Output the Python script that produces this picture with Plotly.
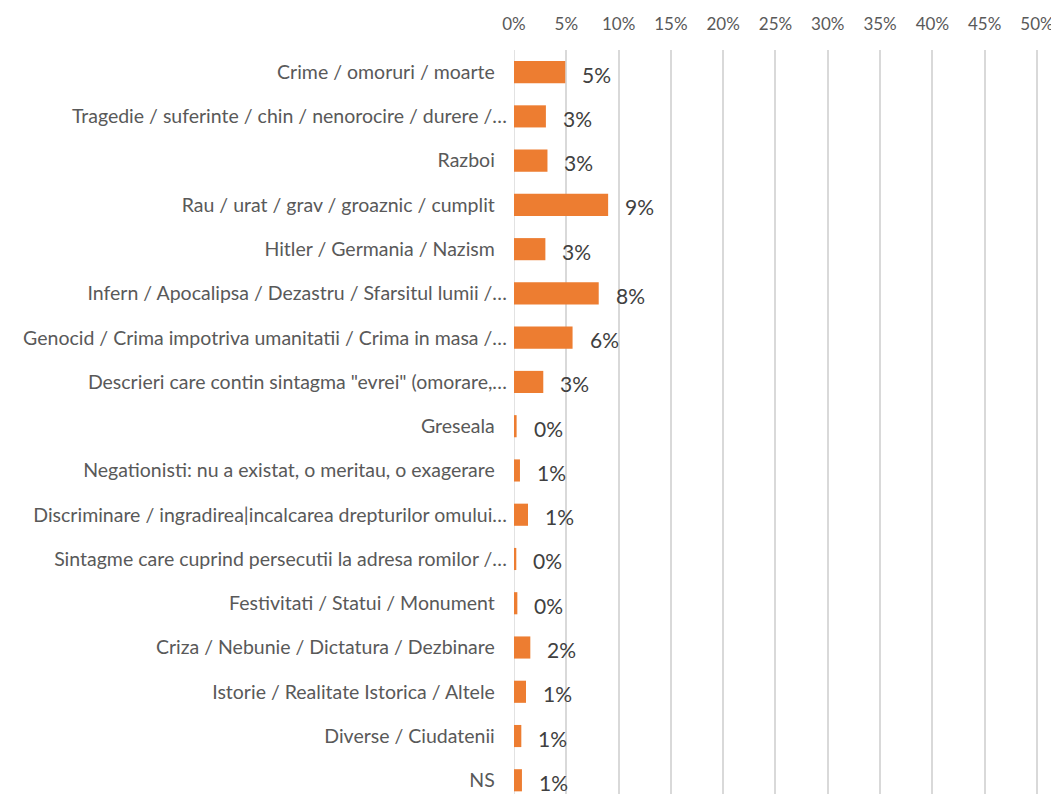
import plotly.graph_objects as go

categories = [
    "Crime / omoruri / moarte",
    "Tragedie / suferinte / chin / nenorocire / durere /…",
    "Razboi",
    "Rau / urat / grav / groaznic / cumplit",
    "Hitler / Germania / Nazism",
    "Infern / Apocalipsa / Dezastru / Sfarsitul lumii /…",
    "Genocid / Crima impotriva umanitatii / Crima in masa /…",
    "Descrieri care contin sintagma \"evrei\" (omorare,…",
    "Greseala",
    "Negationisti: nu a existat, o meritau, o exagerare",
    "Discriminare / ingradirea|incalcarea drepturilor omului…",
    "Sintagme care cuprind persecutii la adresa romilor /…",
    "Festivitati / Statui / Monument",
    "Criza / Nebunie / Dictatura / Dezbinare",
    "Istorie / Realitate Istorica / Altele",
    "Diverse / Ciudatenii",
    "NS",
]
values = [4.9, 3.05, 3.2, 9.0, 3.0, 8.1, 5.6, 2.8, 0.25, 0.57, 1.34, 0.22, 0.32, 1.56, 1.15, 0.7, 0.76]
x_ticks = [0, 5, 10, 15, 20, 25, 30, 35, 40, 45, 50]
x_tick_labels = [f"{t}%" for t in x_ticks]

FONT = "Lato, Carlito, Calibri, sans-serif"
GREY = "#595959"
GRID = "#D9D9D9"

# Untruncated labels sit a bit further from the axis than truncated ones
tick_text = [c if c.endswith("…") else c + "\u2002\u2009" for c in categories]

fig = go.Figure()
fig.add_trace(go.Bar(
    x=values, y=categories, orientation="h",
    marker=dict(color="#ED7D31", line=dict(width=0)),
    hoverinfo="x+y",
))

for c, v in zip(categories, values):
    fig.add_annotation(x=v, y=c, text=f"{round(v):.0f}%", showarrow=False,
                       xanchor="left", xshift=15, yshift=-2,
                       font=dict(family=FONT, size=21, color="#404040"))

fig.update_layout(
    width=1051, height=786,
    margin=dict(l=506, r=21, t=42, b=0),
    paper_bgcolor="white", plot_bgcolor="white",
    bargap=0.5,
    showlegend=False,
    font=dict(family=FONT, color=GREY),
    xaxis=dict(
        side="top", range=[0, 50.1], tickvals=x_ticks, ticktext=x_tick_labels,
        showgrid=True, gridcolor=GRID, gridwidth=1.5,
        zeroline=False, showline=False,
        ticks="", ticklabelstandoff=16,
        tickfont=dict(family=FONT, size=17, color=GREY),
    ),
    yaxis=dict(
        type="category", range=[16.31, -0.5],
        tickvals=categories, ticktext=tick_text,
        showgrid=False, zeroline=False, showline=False,
        ticks="", ticklabelstandoff=6,
        tickfont=dict(family=FONT, size=19.5, color=GREY),
    ),
)
# axis edges (0% and 50%) drawn explicitly so they are not suppressed
for edge in (x_ticks[0], x_ticks[-1]):
    fig.add_shape(type="line", xref="x", yref="paper", x0=edge, x1=edge, y0=0, y1=1,
                  line=dict(color=GRID, width=1.5), layer="below")

fig.write_html("out.html")
